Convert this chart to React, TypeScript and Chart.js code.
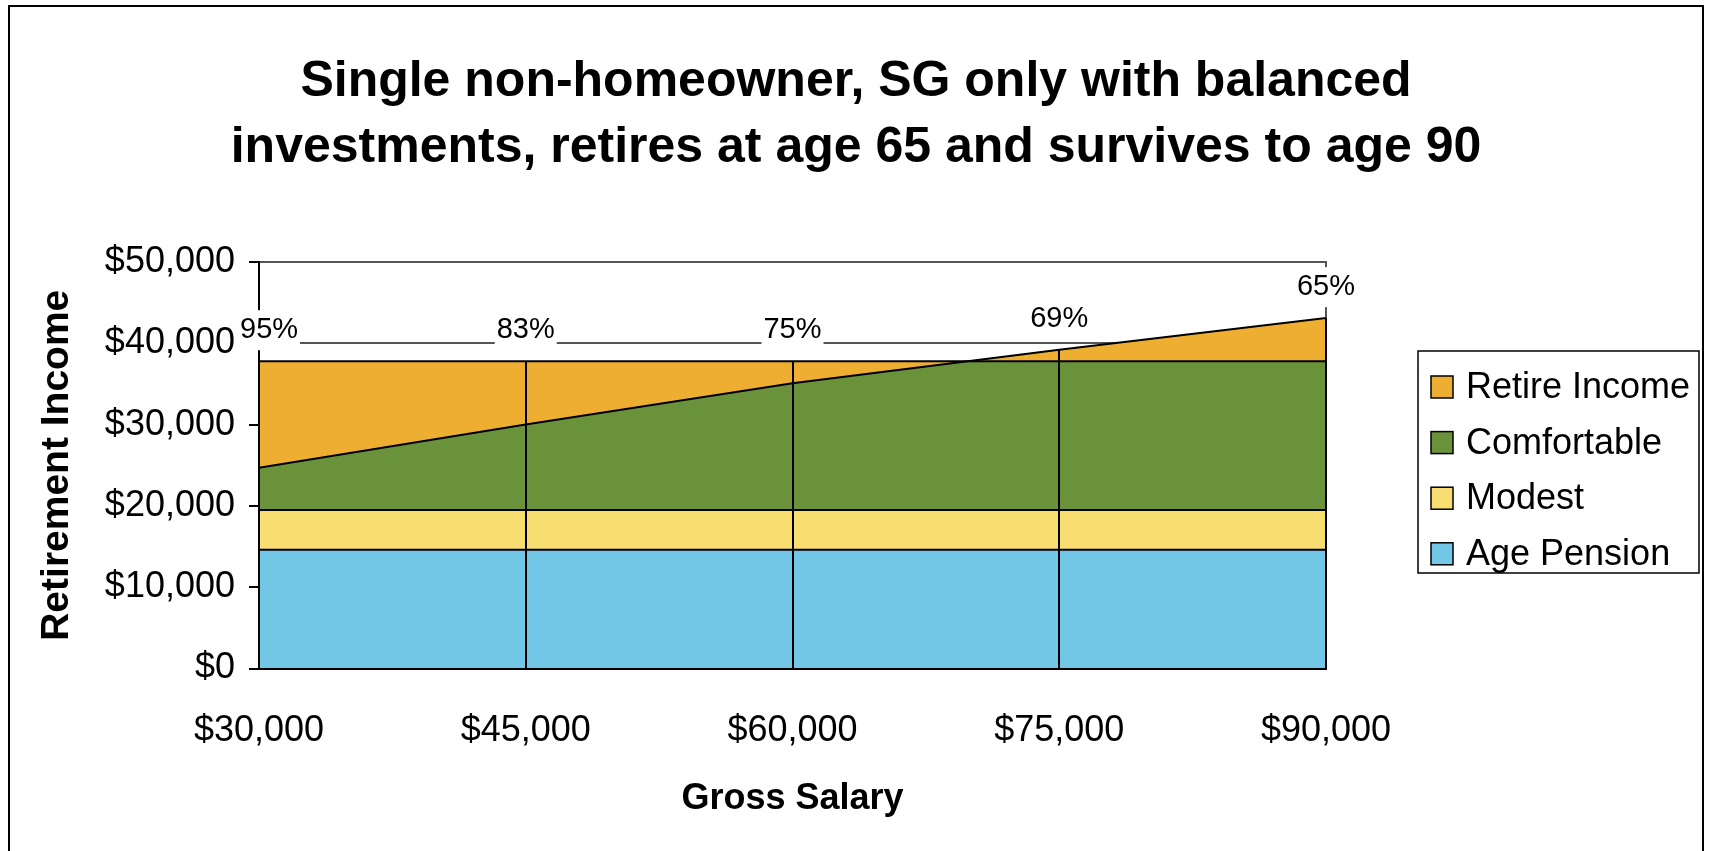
import React, { useEffect, useRef } from 'react';
import { Chart, registerables } from 'chart.js';

Chart.register(...registerables);

const salaries = [30000, 45000, 60000, 75000, 90000];
const retireIncome = [24700, 30000, 35100, 39200, 43100];
const comfortable = [37800, 37800, 37800, 37800, 37800];
const modest = [19500, 19500, 19500, 19500, 19500];
const agePension = [14600, 14600, 14600, 14600, 14600];
const replacementRates = ['95%', '83%', '75%', '69%', '65%'];
const seriesNames = ['Retire Income', 'Comfortable', 'Modest', 'Age Pension'];
const seriesColors = ['#EDAE31', '#6A923A', '#F8DE70', '#73C7E6'];
const titleLines = [
  'Single non-homeowner, SG only with balanced',
  'investments, retires at age 65 and survives to age 90',
];
const xTitle = 'Gross Salary';
const yTitle = 'Retirement Income';

const FONT = '"Liberation Sans", Arial, sans-serif';

const money = (v: number) => '$' + String(Math.round(v)).replace(/\B(?=(\d{3})+(?!\d))/g, ',');
const pts = (vals: number[]) => salaries.map((s, i) => ({ x: s, y: vals[i] }));

const dropLinesPlugin = {
  id: 'dropLines',
  afterDatasetsDraw(chart: any) {
    const { ctx } = chart;
    const xs = chart.scales.x;
    const ys = chart.scales.y;
    ctx.save();
    ctx.strokeStyle = '#000';
    ctx.lineWidth = 2;
    for (let i = 1; i < salaries.length; i++) {
      const px = Math.round(xs.getPixelForValue(salaries[i]));
      const top = Math.max(retireIncome[i], comfortable[i]);
      ctx.beginPath();
      ctx.moveTo(px, ys.getPixelForValue(0));
      ctx.lineTo(px, ys.getPixelForValue(top));
      ctx.stroke();
    }
    ctx.restore();
  },
};

const labelsAndLegendPlugin = {
  id: 'labelsAndLegend',
  afterDraw(chart: any) {
    const { ctx, chartArea } = chart;
    const xs = chart.scales.x;
    const ys = chart.scales.y;
    ctx.save();
    // data labels
    ctx.font = `29px ${FONT}`;
    ctx.textAlign = 'center';
    ctx.textBaseline = 'middle';
    salaries.forEach((s, i) => {
      const w = ctx.measureText(replacementRates[i]).width;
      let px = xs.getPixelForValue(s);
      if (px - w / 2 < chartArea.left - 19) px = chartArea.left - 19 + w / 2;
      const py = ys.getPixelForValue(Math.max(retireIncome[i], comfortable[i])) - 31;
      ctx.fillStyle = '#fff';
      ctx.fillRect(px - w / 2 - 2, py - 20, w + 4, 40);
      ctx.fillStyle = '#000';
      ctx.fillText(replacementRates[i], px, py);
    });
    // legend
    const lx = chartArea.right + 92;
    const ly = chartArea.top + 89;
    const lw = 281;
    const lh = 222;
    ctx.strokeStyle = '#000';
    ctx.lineWidth = 1.5;
    ctx.strokeRect(lx, ly, lw, lh);
    ctx.font = `36px ${FONT}`;
    ctx.textAlign = 'left';
    seriesNames.forEach((name, i) => {
      const cy = ly + 36 + i * 55.6;
      ctx.fillStyle = seriesColors[i];
      ctx.fillRect(lx + 13, cy - 11, 22, 22);
      ctx.strokeStyle = '#000';
      ctx.lineWidth = 1.5;
      ctx.strokeRect(lx + 13, cy - 11, 22, 22);
      ctx.fillStyle = '#000';
      ctx.fillText(name, lx + 48, cy + 1);
    });
    ctx.restore();
  },
};

export default function App() {
  const ref = useRef<HTMLCanvasElement>(null);
  useEffect(() => {
    if (!ref.current) return;
    const chart = new Chart(ref.current, {
      type: 'line',
      data: {
        datasets: [
          {
            label: seriesNames[0],
            data: pts(retireIncome),
            borderColor: '#000',
            borderWidth: 2,
            backgroundColor: seriesColors[0],
            fill: { target: 1, above: seriesColors[0], below: seriesColors[0] },
            pointRadius: 0,
            tension: 0,
          },
          {
            label: seriesNames[1],
            data: pts(comfortable),
            borderColor: '#000',
            borderWidth: 2,
            backgroundColor: seriesColors[1],
            fill: { target: 2, above: seriesColors[1], below: seriesColors[1] },
            pointRadius: 0,
          },
          {
            label: seriesNames[2],
            data: pts(modest),
            borderColor: '#000',
            borderWidth: 2,
            backgroundColor: seriesColors[2],
            fill: { target: 3, above: seriesColors[2], below: seriesColors[2] },
            pointRadius: 0,
          },
          {
            label: seriesNames[3],
            data: pts(agePension),
            borderColor: '#000',
            borderWidth: 2,
            backgroundColor: seriesColors[3],
            fill: { target: 'origin', above: seriesColors[3], below: seriesColors[3] },
            pointRadius: 0,
          },
        ],
      },
      options: {
        responsive: false,
        animation: false,
        events: [],
        layout: { padding: 0 },
        plugins: {
          legend: { display: false },
          tooltip: { enabled: false },
          filler: { drawTime: 'beforeDatasetsDraw' },
          title: {
            display: true,
            text: titleLines,
            color: '#000',
            font: { family: FONT, size: 50, weight: 'bold', lineHeight: 1.33 },
            padding: { top: 41.5, bottom: 80.5 },
          },
        },
        scales: {
          x: {
            type: 'linear',
            min: 30000,
            max: 90000,
            offset: false,
            ticks: {
              stepSize: 15000,
              callback: (v: any) => money(Number(v)),
              color: '#000',
              font: { family: FONT, size: 36 },
              padding: 32.5,
              maxRotation: 0,
            },
            grid: { display: false },
            border: { display: true, color: '#000', width: 2, z: 1 },
            title: {
              display: true,
              text: xTitle,
              color: '#000',
              font: { family: FONT, size: 36, weight: 'bold' },
              padding: { top: 0, bottom: 62 },
            },
            afterFit: (s: any) => {
              s.height = 214.5;
            },
          },
          y: {
            min: 0,
            max: 50000,
            ticks: {
              stepSize: 10000,
              callback: (v: any) => money(Number(v)),
              color: '#000',
              font: { family: FONT, size: 36 },
              padding: 14,
            },
            grid: { color: '#555', lineWidth: 2, tickColor: '#000', tickLength: 10, drawTicks: true },
            border: { display: true, color: '#000', width: 2, z: 1 },
            title: {
              display: true,
              text: yTitle,
              color: '#000',
              font: { family: FONT, size: 39, weight: 'bold' },
              padding: { top: 23.6, bottom: 0 },
            },
            afterFit: (s: any) => {
              s.width = 249;
            },
          },
          yRight: {
            position: 'right',
            min: 0,
            max: 50000,
            ticks: { display: false },
            grid: { display: false },
            border: { display: true, color: '#555', width: 2 },
            afterFit: (s: any) => {
              s.width = 376;
            },
          },
        },
      },
      plugins: [dropLinesPlugin, labelsAndLegendPlugin],
    } as any);
    return () => chart.destroy();
  }, []);

  return (
    <div
      style={{
        position: 'absolute',
        left: 8,
        top: 5,
        width: 1696,
        height: 880,
        border: '2px solid #000',
        boxSizing: 'border-box',
        background: '#fff',
      }}
    >
      <canvas ref={ref} width={1692} height={876} style={{ display: 'block' }} />
    </div>
  );
}
